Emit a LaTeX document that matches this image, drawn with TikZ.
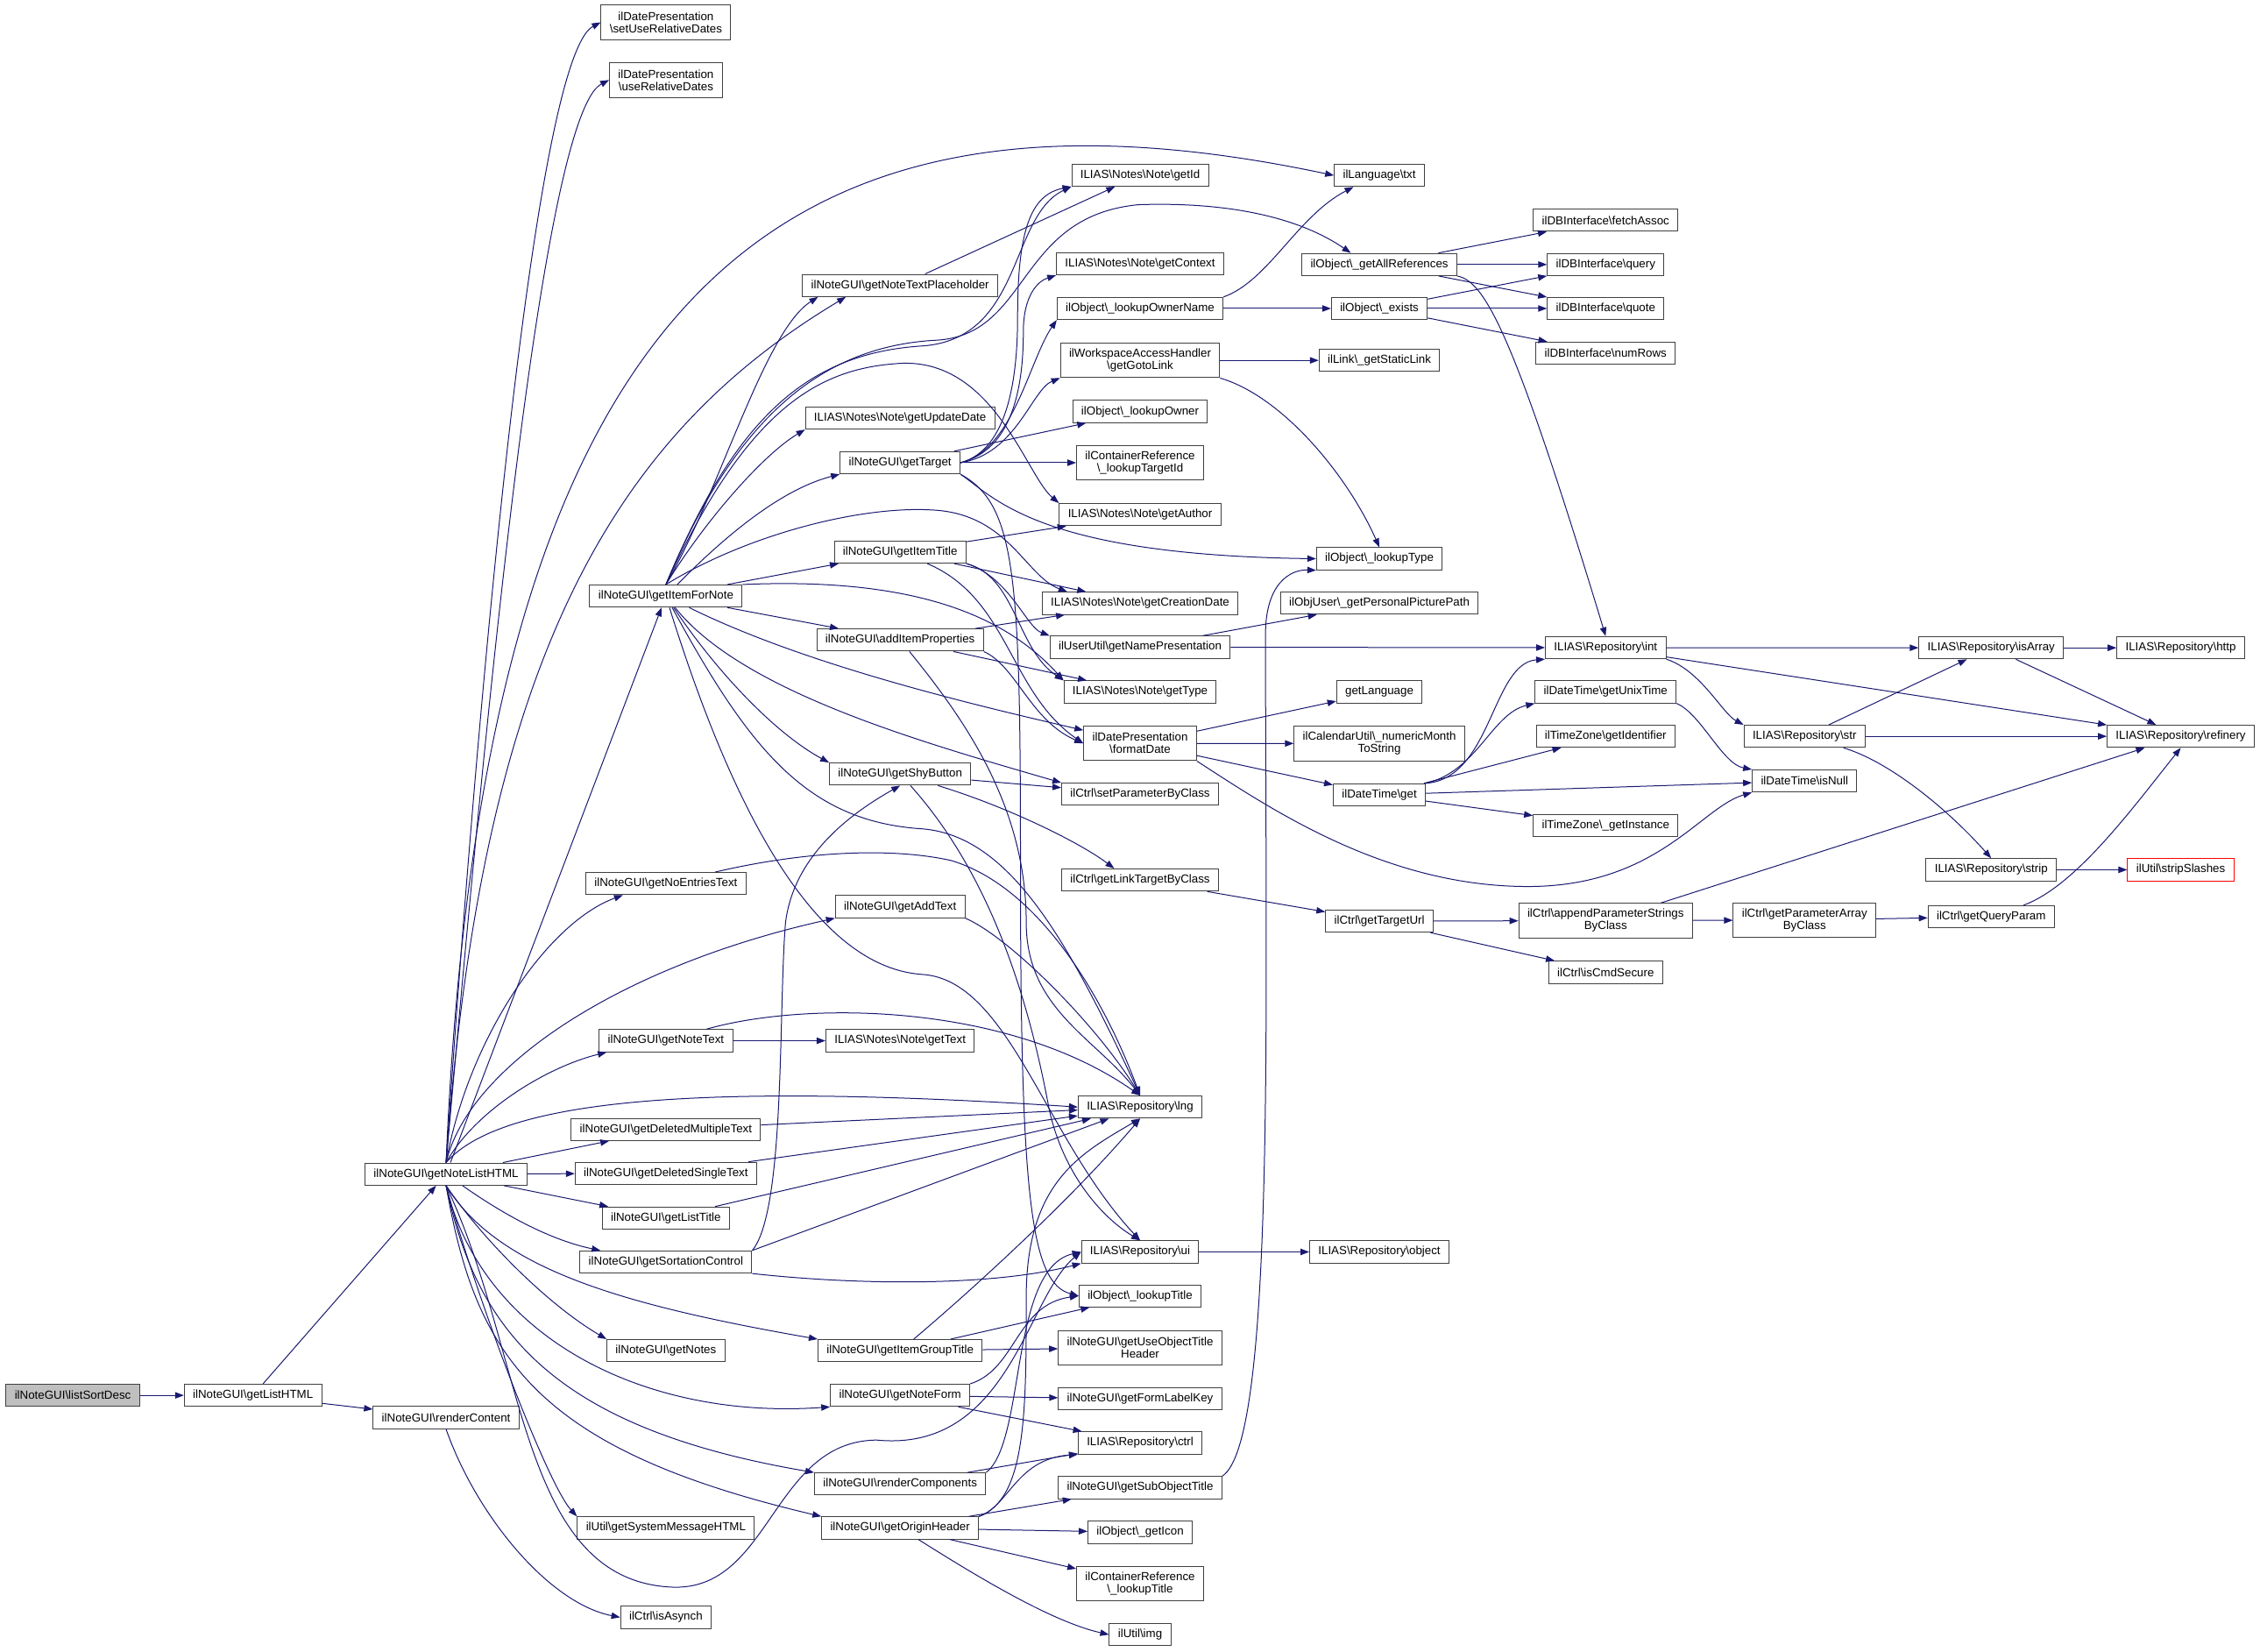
\documentclass[tikz,border=0pt]{standalone}
\usepackage{fontspec}
\setmainfont{Liberation Sans}
\usetikzlibrary{arrows.meta}
\definecolor{callblue}{HTML}{191970}
\newcommand{\bsl}{\textbackslash}

\begin{document}
\begin{tikzpicture}[x=1.234pt,y=1.234pt,
	func/.style={draw=black!75,fill=white,line width=0.75pt,minimum height=19pt,inner xsep=7.4pt,inner ysep=2pt,align=center,font=\fontsize{10pt}{10.5pt}\selectfont},
	func2/.style={func,minimum height=29.6pt},
	calls/.style={draw=callblue,line width=0.75pt,-{Triangle[length=7.5pt,width=5.5pt]}}]
	\useasboundingbox (0,0) rectangle (1568,-1146);
	\node[func,fill=black!25] (listSortDesc) at (50.5,-968) {ilNoteGUI\bsl listSortDesc};
	\node[func] (getListHTML) at (175.5,-968) {ilNoteGUI\bsl getListHTML};
	\node[func] (getNoteListHTML) at (309.5,-814.5) {ilNoteGUI\bsl getNoteListHTML};
	\node[func] (renderContent) at (309.5,-983.5) {ilNoteGUI\bsl renderContent};
	\node[func2] (setUseRelDates) at (462,-15.5) {ilDatePresentation\\\bsl setUseRelativeDates};
	\node[func2] (useRelDates) at (462,-55.5) {ilDatePresentation\\\bsl useRelativeDates};
	\node[func] (getItemForNote) at (462,-413.5) {ilNoteGUI\bsl getItemForNote};
	\node[func] (getNoEntriesText) at (462,-613) {ilNoteGUI\bsl getNoEntriesText};
	\node[func] (getNoteText) at (462,-722) {ilNoteGUI\bsl getNoteText};
	\node[func] (getDelMultiText) at (462,-783.5) {ilNoteGUI\bsl getDeletedMultipleText};
	\node[func] (getDelSingleText) at (462,-814) {ilNoteGUI\bsl getDeletedSingleText};
	\node[func] (getListTitle) at (462,-845) {ilNoteGUI\bsl getListTitle};
	\node[func] (getSortationCtrl) at (462,-875.5) {ilNoteGUI\bsl getSortationControl};
	\node[func] (getNotes) at (462,-937) {ilNoteGUI\bsl getNotes};
	\node[func] (getSysMsgHTML) at (462,-1060) {ilUtil\bsl getSystemMessageHTML};
	\node[func] (isAsynch) at (462,-1122) {ilCtrl\bsl isAsynch};
	\node[func] (getNoteTextPlaceholder) at (624.5,-198) {ilNoteGUI\bsl getNoteTextPlaceholder};
	\node[func] (getUpdateDate) at (624.5,-290) {ILIAS\bsl Notes\bsl Note\bsl getUpdateDate};
	\node[func] (getTarget) at (624.5,-321) {ilNoteGUI\bsl getTarget};
	\node[func] (getItemTitle) at (624.5,-383) {ilNoteGUI\bsl getItemTitle};
	\node[func] (addItemProperties) at (624.5,-444) {ilNoteGUI\bsl addItemProperties};
	\node[func] (getShyButton) at (624.5,-537) {ilNoteGUI\bsl getShyButton};
	\node[func] (getAddText) at (624.5,-629) {ilNoteGUI\bsl getAddText};
	\node[func] (noteGetText) at (624.5,-722) {ILIAS\bsl Notes\bsl Note\bsl getText};
	\node[func] (getItemGroupTitle) at (624.5,-937) {ilNoteGUI\bsl getItemGroupTitle};
	\node[func] (getNoteForm) at (624.5,-968) {ilNoteGUI\bsl getNoteForm};
	\node[func] (renderComponents) at (624.5,-1029.5) {ilNoteGUI\bsl renderComponents};
	\node[func] (getOriginHeader) at (624.5,-1060) {ilNoteGUI\bsl getOriginHeader};
	\node[func] (noteGetId) at (791,-121.5) {ILIAS\bsl Notes\bsl Note\bsl getId};
	\node[func] (noteGetContext) at (791,-183) {ILIAS\bsl Notes\bsl Note\bsl getContext};
	\node[func] (lookupOwnerName) at (791,-214) {ilObject\bsl\_lookupOwnerName};
	\node[func2] (getGotoLink) at (791,-250) {ilWorkspaceAccessHandler\\\bsl getGotoLink};
	\node[func] (lookupOwner) at (791,-285.5) {ilObject\bsl\_lookupOwner};
	\node[func2] (lookupTargetId) at (791,-321) {ilContainerReference\\\bsl\_lookupTargetId};
	\node[func] (noteGetAuthor) at (791,-357) {ILIAS\bsl Notes\bsl Note\bsl getAuthor};
	\node[func] (noteGetCreationDate) at (791,-418.5) {ILIAS\bsl Notes\bsl Note\bsl getCreationDate};
	\node[func] (getNamePresentation) at (791,-449) {ilUserUtil\bsl getNamePresentation};
	\node[func] (noteGetType) at (791,-480) {ILIAS\bsl Notes\bsl Note\bsl getType};
	\node[func2] (formatDate) at (791,-515.7) {ilDatePresentation\\\bsl formatDate};
	\node[func] (setParameterByClass) at (791,-551) {ilCtrl\bsl setParameterByClass};
	\node[func] (getLinkTargetByClass) at (791,-610.5) {ilCtrl\bsl getLinkTargetByClass};
	\node[func] (repoLng) at (791,-768) {ILIAS\bsl Repository\bsl lng};
	\node[func] (repoUi) at (791,-868.5) {ILIAS\bsl Repository\bsl ui};
	\node[func] (objLookupTitle) at (791,-899) {ilObject\bsl\_lookupTitle};
	\node[func2] (getUseObjTitleHeader) at (791,-935) {ilNoteGUI\bsl getUseObjectTitle\\Header};
	\node[func] (getFormLabelKey) at (791,-970.5) {ilNoteGUI\bsl getFormLabelKey};
	\node[func] (repoCtrl) at (791,-1001) {ILIAS\bsl Repository\bsl ctrl};
	\node[func] (getSubObjectTitle) at (791,-1032) {ilNoteGUI\bsl getSubObjectTitle};
	\node[func] (objGetIcon) at (791,-1063) {ilObject\bsl\_getIcon};
	\node[func2] (refLookupTitle) at (791,-1098.5) {ilContainerReference\\\bsl\_lookupTitle};
	\node[func] (utilImg) at (791,-1134) {ilUtil\bsl img};
	\node[func] (langTxt) at (957,-121.7) {ilLanguage\bsl txt};
	\node[func] (getAllReferences) at (957,-183.5) {ilObject\bsl\_getAllReferences};
	\node[func] (objExists) at (957,-214) {ilObject\bsl\_exists};
	\node[func] (getStaticLink) at (957,-250) {ilLink\bsl\_getStaticLink};
	\node[func] (lookupType) at (957,-387.6) {ilObject\bsl\_lookupType};
	\node[func] (getPersonalPicturePath) at (957,-418.4) {ilObjUser\bsl\_getPersonalPicturePath};
	\node[func] (getLanguage) at (957,-480) {getLanguage};
	\node[func2] (numericMonthToString) at (957,-515.8) {ilCalendarUtil\bsl\_numericMonth\\ToString};
	\node[func] (dateTimeGet) at (957,-551.4) {ilDateTime\bsl get};
	\node[func] (getTargetUrl) at (957,-639) {ilCtrl\bsl getTargetUrl};
	\node[func] (repoObject) at (957,-868.5) {ILIAS\bsl Repository\bsl object};
	\node[func] (fetchAssoc) at (1114,-152.8) {ilDBInterface\bsl fetchAssoc};
	\node[func] (dbQuery) at (1114,-183.5) {ilDBInterface\bsl query};
	\node[func] (dbQuote) at (1114,-214) {ilDBInterface\bsl quote};
	\node[func] (numRows) at (1114,-245) {ilDBInterface\bsl numRows};
	\node[func] (repoInt) at (1114,-449.3) {ILIAS\bsl Repository\bsl int};
	\node[func] (getUnixTime) at (1114,-480) {ilDateTime\bsl getUnixTime};
	\node[func] (getIdentifier) at (1114,-510.7) {ilTimeZone\bsl getIdentifier};
	\node[func] (getInstance) at (1114,-572.6) {ilTimeZone\bsl\_getInstance};
	\node[func2] (appendParamStrings) at (1114,-638.7) {ilCtrl\bsl appendParameterStrings\\ByClass};
	\node[func] (isCmdSecure) at (1114,-674.5) {ilCtrl\bsl isCmdSecure};
	\node[func] (repoStr) at (1252,-510.8) {ILIAS\bsl Repository\bsl str};
	\node[func] (isNull) at (1252,-541.8) {ilDateTime\bsl isNull};
	\node[func2] (getParamArray) at (1252,-638.3) {ilCtrl\bsl getParameterArray\\ByClass};
	\node[func] (repoIsArray) at (1381.5,-449.4) {ILIAS\bsl Repository\bsl isArray};
	\node[func] (repoStrip) at (1381.5,-603.4) {ILIAS\bsl Repository\bsl strip};
	\node[func] (getQueryParam) at (1381.5,-636) {ilCtrl\bsl getQueryParam};
	\node[func] (repoHttp) at (1513,-449.4) {ILIAS\bsl Repository\bsl http};
	\node[func] (repoRefinery) at (1513,-510.8) {ILIAS\bsl Repository\bsl refinery};
	\node[func,draw=red] (stripSlashes) at (1513,-603.4) {ilUtil\bsl stripSlashes};

	\draw[calls] (listSortDesc) -- (getListHTML);
	\draw[calls] (getListHTML) -- (getNoteListHTML);
	\draw[calls] (getListHTML) -- (renderContent);
	\draw[calls] (renderContent.south) .. controls (330,-1050) and (380,-1112) .. (isAsynch.west);

	\draw[calls] (getNoteListHTML.north) .. controls (330,-500) and (370,-40) .. (setUseRelDates.west);
	\draw[calls] (getNoteListHTML.north) .. controls (335,-520) and (375,-80) .. (useRelDates.west);
	\draw[calls] (getNoteListHTML.north) .. controls (335,-200) and (540,-40) .. (langTxt.west);
	\draw[calls] (getNoteListHTML.north) .. controls (335,-450) and (430,-300) .. (getNoteTextPlaceholder.192);
	\draw[calls] (getNoteListHTML) -- (getItemForNote);
	\draw[calls] (getNoteListHTML.north) .. controls (325,-720) and (380,-640) .. (getNoEntriesText.195);
	\draw[calls] (getNoteListHTML.north) .. controls (325,-740) and (430,-670) .. (getAddText.south west);
	\draw[calls] (getNoteListHTML.north) .. controls (330,-770) and (380,-740) .. (getNoteText.191);
	\draw[calls] (getNoteListHTML.north) .. controls (350,-760) and (500,-752) .. (repoLng.west);
	\draw[calls] (getNoteListHTML) -- (getDelMultiText);
	\draw[calls] (getNoteListHTML) -- (getDelSingleText);
	\draw[calls] (getNoteListHTML) -- (getListTitle);
	\draw[calls] (getNoteListHTML) .. controls (360,-850) and (390,-862) .. (getSortationCtrl.170);
	\draw[calls] (getNoteListHTML.south) .. controls (335,-860) and (380,-905) .. (getNotes.north west);
	\draw[calls] (getNoteListHTML.south) .. controls (345,-880) and (430,-905) .. (getItemGroupTitle.north west);
	\draw[calls] (getNoteListHTML.south) .. controls (335,-930) and (450,-985) .. (getNoteForm.south west);
	\draw[calls] (getNoteListHTML.south) .. controls (330,-920) and (380,-990) .. (renderComponents.north west);
	\draw[calls] (getNoteListHTML.south) .. controls (330,-940) and (370,-1005) .. (getOriginHeader.north west);
	\draw[calls] (getNoteListHTML.south) .. controls (330,-900) and (380,-1030) .. (getSysMsgHTML.north west);
	\draw[calls] (getNoteListHTML.south) .. controls (365,-940) and (360,-1095) .. (465,-1101) .. controls (535,-1105) and (535,-1000) .. (608,-999) .. controls (700,-1008) and (712,-900) .. (repoUi.west);

	\draw[calls] (getItemForNote.north) .. controls (500,-340) and (530,-230) .. (getNoteTextPlaceholder.188);
	\draw[calls] (getItemForNote.north) .. controls (510,-290) and (560,-245) .. (640,-240) .. controls (710,-235) and (700,-150) .. (noteGetId.south west);
	\draw[calls] (getItemForNote.north) .. controls (510,-290) and (570,-240) .. (650,-236) .. controls (715,-232) and (705,-150) .. (790,-142) .. controls (850,-140) and (900,-150) .. (getAllReferences.158);
	\draw[calls] (getItemForNote.north) .. controls (520,-280) and (570,-255) .. (626,-252) .. controls (690,-250) and (712,-330) .. (noteGetAuthor.north west);
	\draw[calls] (getItemForNote.north) .. controls (490,-360) and (530,-315) .. (getUpdateDate.south west);
	\draw[calls] (getItemForNote) .. controls (500,-375) and (540,-340) .. (getTarget.south west);
	\draw[calls] (getItemForNote) -- (getItemTitle);
	\draw[calls] (getItemForNote) -- (addItemProperties);
	\draw[calls] (getItemForNote.north) .. controls (520,-370) and (600,-350) .. (650,-354) .. controls (700,-358) and (712,-400) .. (noteGetCreationDate.171);
	\draw[calls] (getItemForNote.north east) .. controls (640,-400) and (700,-430) .. (noteGetType.north west);
	\draw[calls] (getItemForNote) .. controls (560,-462) and (680,-490) .. (formatDate);
	\draw[calls] (getItemForNote) .. controls (515,-480) and (640,-515) .. (setParameterByClass.north west);
	\draw[calls] (getItemForNote) .. controls (500,-470) and (540,-510) .. (getShyButton.north west);
	\draw[calls] (getItemForNote) .. controls (520,-520) and (560,-570) .. (640,-575) .. controls (700,-580) and (740,-650) .. (repoLng.north);
	\draw[calls] (getItemForNote) .. controls (520,-600) and (580,-672) .. (640,-676) .. controls (700,-680) and (725,-790) .. (repoUi.north);

	\draw[calls] (getNoteTextPlaceholder) -- (noteGetId);
	\draw[calls] (getTarget.east) .. controls (700,-312) and (706,-260) .. (706,-220) .. controls (706,-160) and (715,-135) .. (noteGetId.south west);
	\draw[calls] (getTarget.east) .. controls (702,-312) and (710,-270) .. (710,-230) .. controls (710,-205) and (720,-195) .. (noteGetContext.south west);
	\draw[calls] (getTarget.east) .. controls (703,-312) and (714,-250) .. (lookupOwnerName.south west);
	\draw[calls] (getTarget.east) .. controls (705,-315) and (716,-270) .. (getGotoLink.south west);
	\draw[calls] (getTarget) -- (lookupOwner);
	\draw[calls] (getTarget) -- (lookupTargetId);
	\draw[calls] (getTarget.south east) .. controls (690,-345) and (720,-385) .. (lookupType.west);
	\draw[calls] (getTarget.south east) .. controls (705,-350) and (708,-400) .. (708,-600) .. controls (708,-830) and (715,-890) .. (objLookupTitle.west);

	\draw[calls] (getItemTitle) -- (noteGetAuthor);
	\draw[calls] (getItemTitle) -- (noteGetCreationDate);
	\draw[calls] (getItemTitle.south east) .. controls (700,-400) and (712,-435) .. (getNamePresentation.north west);
	\draw[calls] (getItemTitle.south east) .. controls (705,-400) and (705,-450) .. (noteGetType.north west);
	\draw[calls] (getItemTitle) .. controls (700,-415) and (700,-480) .. (formatDate.west);
	\draw[calls] (addItemProperties) -- (noteGetCreationDate);
	\draw[calls] (addItemProperties) -- (noteGetType);
	\draw[calls] (addItemProperties.south east) .. controls (705,-462) and (715,-500) .. (formatDate.west);
	\draw[calls] (addItemProperties) .. controls (670,-500) and (712,-560) .. (712,-640) .. controls (712,-700) and (760,-720) .. (repoLng.north);

	\draw[calls] (getShyButton) -- (setParameterByClass);
	\draw[calls] (getShyButton) .. controls (700,-560) and (750,-585) .. (getLinkTargetByClass.156);
	\draw[calls] (getShyButton) .. controls (690,-610) and (715,-700) .. (728,-770) .. controls (738,-815) and (765,-845) .. (repoUi.north);
	\draw[calls] (getAddText.south east) .. controls (700,-650) and (760,-710) .. (repoLng.north);
	\draw[calls] (getNoEntriesText) .. controls (560,-590) and (620,-588) .. (660,-597) .. controls (720,-615) and (765,-690) .. (repoLng.north);
	\draw[calls] (getNoteText) -- (noteGetText);
	\draw[calls] (getNoteText) .. controls (560,-694) and (700,-696) .. (repoLng.north);
	\draw[calls] (getDelMultiText) -- (repoLng);
	\draw[calls] (getDelSingleText) -- (repoLng);
	\draw[calls] (getListTitle) -- (repoLng);
	\draw[calls] (getSortationCtrl.north east) -- (repoLng);
	\draw[calls] (getSortationCtrl.south east) .. controls (600,-892) and (690,-892) .. (repoUi.south west);
	\draw[calls] (getSortationCtrl.north east) .. controls (545,-840) and (540,-700) .. (545,-640) .. controls (550,-600) and (580,-570) .. (getShyButton.south);

	\draw[calls] (getItemGroupTitle) .. controls (680,-890) and (745,-830) .. (repoLng.south);
	\draw[calls] (getItemGroupTitle) -- (objLookupTitle);
	\draw[calls] (getItemGroupTitle) -- (getUseObjTitleHeader);
	\draw[calls] (getNoteForm) -- (getFormLabelKey);
	\draw[calls] (getNoteForm) -- (repoCtrl);
	\draw[calls] (getNoteForm.north east) .. controls (705,-950) and (705,-905) .. (objLookupTitle.west);
	\draw[calls] (renderComponents) -- (repoCtrl);
	\draw[calls] (renderComponents.north east) .. controls (712,-1000) and (700,-880) .. (repoUi.west);
	\draw[calls] (getOriginHeader) -- (getSubObjectTitle);
	\draw[calls] (getOriginHeader) -- (objGetIcon);
	\draw[calls] (getOriginHeader) -- (refLookupTitle);
	\draw[calls] (getOriginHeader) .. controls (680,-1095) and (730,-1125) .. (utilImg.west);
	\draw[calls] (getOriginHeader.north east) .. controls (700,-1045) and (705,-1012) .. (repoCtrl.south west);
	\draw[calls] (getOriginHeader.north east) .. controls (712,-1040) and (712,-980) .. (712,-900) .. controls (712,-820) and (750,-800) .. (repoLng.south);

	\draw[calls] (getSubObjectTitle.north east) .. controls (885,-1000) and (878,-700) .. (878,-440) .. controls (878,-405) and (895,-395) .. (lookupType.south west);
	\draw[calls] (getGotoLink) -- (getStaticLink);
	\draw[calls] (getGotoLink.south east) .. controls (890,-275) and (935,-330) .. (lookupType.north);
	\draw[calls] (lookupOwnerName) -- (objExists);
	\draw[calls] (lookupOwnerName.north east) .. controls (880,-195) and (900,-150) .. (langTxt.204);
	\draw[calls] (getAllReferences) -- (fetchAssoc);
	\draw[calls] (getAllReferences) -- (dbQuery);
	\draw[calls] (getAllReferences) -- (dbQuote);
	\draw[calls] (getAllReferences.south east) .. controls (1030,-195) and (1050,-230) .. (repoInt.north);
	\draw[calls] (objExists) -- (dbQuery);
	\draw[calls] (objExists) -- (dbQuote);
	\draw[calls] (objExists) -- (numRows);
	\draw[calls] (getNamePresentation) -- (getPersonalPicturePath);
	\draw[calls] (getNamePresentation) -- (repoInt);
	\draw[calls] (formatDate) -- (getLanguage);
	\draw[calls] (formatDate) -- (numericMonthToString);
	\draw[calls] (formatDate) -- (dateTimeGet);
	\draw[calls] (formatDate.south east) .. controls (880,-560) and (960,-615) .. (1060,-615) .. controls (1150,-615) and (1180,-560) .. (isNull.south west);
	\draw[calls] (dateTimeGet.north east) .. controls (1035,-540) and (1035,-460) .. (repoInt.south west);
	\draw[calls] (dateTimeGet.north east) .. controls (1025,-535) and (1035,-495) .. (getUnixTime.south west);
	\draw[calls] (dateTimeGet) -- (getIdentifier);
	\draw[calls] (dateTimeGet) -- (isNull);
	\draw[calls] (dateTimeGet) -- (getInstance);
	\draw[calls] (getUnixTime.south east) .. controls (1180,-495) and (1195,-530) .. (isNull.north west);
	\draw[calls] (repoInt) -- (repoIsArray);
	\draw[calls] (repoInt.south east) .. controls (1180,-465) and (1195,-495) .. (repoStr.north west);
	\draw[calls] (repoInt) -- (repoRefinery);
	\draw[calls] (repoStr) -- (repoIsArray);
	\draw[calls] (repoStr) -- (repoRefinery);
	\draw[calls] (repoStr) .. controls (1310,-528) and (1350,-560) .. (repoStrip.north);
	\draw[calls] (repoIsArray) -- (repoHttp);
	\draw[calls] (repoIsArray) -- (repoRefinery);
	\draw[calls] (repoStrip) -- (stripSlashes);
	\draw[calls] (getLinkTargetByClass) -- (getTargetUrl);
	\draw[calls] (getTargetUrl) -- (appendParamStrings);
	\draw[calls] (getTargetUrl) -- (isCmdSecure);
	\draw[calls] (appendParamStrings) -- (getParamArray);
	\draw[calls] (appendParamStrings) -- (repoRefinery);
	\draw[calls] (getParamArray) -- (getQueryParam);
	\draw[calls] (getQueryParam) .. controls (1440,-615) and (1480,-560) .. (repoRefinery.south);
	\draw[calls] (repoUi) -- (repoObject);
\end{tikzpicture}
\end{document}
